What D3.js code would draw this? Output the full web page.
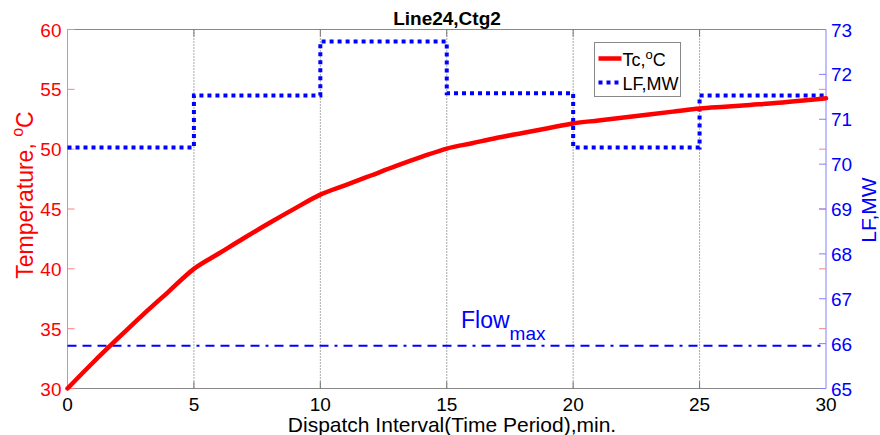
<!DOCTYPE html>
<html>
<head>
<meta charset="utf-8">
<script src="https://cdn.jsdelivr.net/npm/d3@7"></script>
<style>
  body { margin: 0; background: #fff; }
  svg { font-family: "Liberation Sans", Arial, sans-serif; }
</style>
</head>
<body>
<svg id="chart" width="880" height="435"></svg>
<script>
// minutes
const minutes = d3.range(0, 31);
// conductor temperature Tc, degC, read per minute
const tempValues = [30.0, 32.15, 34.2, 36.2, 38.1, 40.0, 41.3, 42.6, 43.85, 45.05, 46.2,
  47.0, 47.8, 48.6, 49.35, 50.05, 50.5, 50.95, 51.35, 51.75, 52.15,
  52.4, 52.65, 52.9, 53.15, 53.4, 53.55, 53.7, 53.85, 54.05, 54.25];
// line flow per dispatch interval, MW
const intervalStarts = [0, 5, 10, 15, 20, 25];
const flowValues = [70.37, 71.53, 72.73, 71.58, 70.37, 71.53];
const flowMax = 65.95;
const xTicks = [0, 5, 10, 15, 20, 25, 30];
const tempTicks = [30, 35, 40, 45, 50, 55, 60];
const flowTicks = [65, 66, 67, 68, 69, 70, 71, 72, 73];

const svg = d3.select("#chart");
const mLeft = 67.5, mRight = 826, mTop = 29.5, mBottom = 388.5;

const x = d3.scaleLinear().domain([0, 30]).range([mLeft, mRight]);
const yT = d3.scaleLinear().domain([30, 60]).range([mBottom, mTop]);
const yF = d3.scaleLinear().domain([65, 73]).range([mBottom, mTop]);

// vertical dotted grid
svg.append("g").selectAll("line")
  .data(xTicks.slice(1, -1))
  .join("line")
  .attr("x1", d => x(d)).attr("x2", d => x(d))
  .attr("y1", mTop).attr("y2", mBottom)
  .attr("stroke", "#555").attr("stroke-width", 1)
  .attr("stroke-dasharray", "1,2");

// top / bottom frame with inward ticks
[mTop, mBottom].forEach((yy, i) => {
  svg.append("line")
    .attr("x1", mLeft).attr("x2", mRight).attr("y1", yy).attr("y2", yy)
    .attr("stroke", "#888").attr("stroke-width", 1);
  svg.append("g").selectAll("line")
    .data(xTicks.slice(1, -1))
    .join("line")
    .attr("x1", d => x(d)).attr("x2", d => x(d))
    .attr("y1", yy).attr("y2", i === 0 ? yy + 7 : yy - 7)
    .attr("stroke", "#777").attr("stroke-width", 1);
});

// left axis (temperature)
svg.append("line")
  .attr("x1", mLeft).attr("x2", mLeft).attr("y1", mTop).attr("y2", mBottom)
  .attr("stroke", "#ff8080").attr("stroke-width", 1);
svg.append("g").selectAll("line")
  .data(tempTicks)
  .join("line")
  .attr("x1", mLeft).attr("x2", mLeft + 7)
  .attr("y1", d => yT(d)).attr("y2", d => yT(d))
  .attr("stroke", "#ff8080");
svg.append("g").selectAll("text")
  .data(tempTicks)
  .join("text")
  .attr("x", mLeft - 6).attr("y", d => yT(d) + 7)
  .attr("text-anchor", "end")
  .attr("font-size", 19).attr("fill", "#ff0000")
  .text(d => d);

// right axis (flow)
svg.append("line")
  .attr("x1", mRight).attr("x2", mRight).attr("y1", mTop).attr("y2", mBottom)
  .attr("stroke", "#8080ff").attr("stroke-width", 1);
svg.append("g").selectAll("line")
  .data(tempTicks)
  .join("line")
  .attr("x1", mRight).attr("x2", mRight - 7)
  .attr("y1", d => yT(d)).attr("y2", d => yT(d))
  .attr("stroke", "#ff8080");
svg.append("g").selectAll("line")
  .data(flowTicks)
  .join("line")
  .attr("x1", mRight).attr("x2", mRight - 7)
  .attr("y1", d => yF(d)).attr("y2", d => yF(d))
  .attr("stroke", "#8080ff");
svg.append("g").selectAll("text")
  .data(flowTicks)
  .join("text")
  .attr("x", mRight + 5).attr("y", d => yF(d) + 7)
  .attr("font-size", 19).attr("fill", "#0000ff")
  .text(d => d);

// x tick labels
svg.append("g").selectAll("text")
  .data(xTicks)
  .join("text")
  .attr("x", d => x(d)).attr("y", mBottom + 22)
  .attr("text-anchor", "middle")
  .attr("font-size", 19).attr("fill", "#000")
  .text(d => d);

// Flowmax line
svg.append("line")
  .attr("x1", mLeft).attr("x2", mRight)
  .attr("y1", yF(flowMax)).attr("y2", yF(flowMax))
  .attr("stroke", "#0000ff").attr("stroke-width", 2)
  .attr("stroke-dasharray", "9,6,9,6,9,6,9,6,3,6");

const fl = svg.append("text")
  .attr("x", 461).attr("y", yF(flowMax) - 18)
  .attr("fill", "#0000ff").attr("font-size", 23);
fl.append("tspan").text("Flow");
fl.append("tspan").attr("dy", 12).attr("font-size", 19).text("max");

// LF step line
const flowSteps = intervalStarts.map((s, i) => [s, flowValues[i]]);
flowSteps.push([30, flowValues[flowValues.length - 1]]);
svg.append("path")
  .datum(flowSteps)
  .attr("d", d3.line().x(d => x(d[0])).y(d => yF(d[1])).curve(d3.curveStepAfter))
  .attr("fill", "none").attr("stroke", "#0000ff")
  .attr("stroke-width", 4).attr("stroke-dasharray", "4,4");

// temperature curve
svg.append("path")
  .datum(minutes.map((m, i) => [m, tempValues[i]]))
  .attr("d", d3.line().x(d => x(d[0])).y(d => yT(d[1])).curve(d3.curveMonotoneX))
  .attr("fill", "none").attr("stroke", "#ff0000")
  .attr("stroke-width", 4.5).attr("stroke-linejoin", "round").attr("stroke-linecap", "round");

// title
svg.append("text")
  .attr("x", 447).attr("y", 25)
  .attr("text-anchor", "middle")
  .attr("font-size", 19).attr("font-weight", "bold")
  .text("Line24,Ctg2");

// x axis label
svg.append("text")
  .attr("x", 452).attr("y", 432)
  .attr("text-anchor", "middle")
  .attr("font-size", 21)
  .text("Dispatch Interval(Time Period),min.");

// left axis label
const ll = svg.append("text")
  .attr("transform", "translate(33,195) rotate(-90)")
  .attr("text-anchor", "middle")
  .attr("font-size", 23).attr("fill", "#ff0000");
ll.append("tspan").text("Temperature, ");
ll.append("tspan").attr("dy", -10).attr("font-size", 16).text("o");
ll.append("tspan").attr("dy", 10).text("C");

// right axis label
svg.append("text")
  .attr("transform", "translate(876,210) rotate(-90)")
  .attr("text-anchor", "middle")
  .attr("font-size", 21).attr("fill", "#0000ff")
  .text("LF,MW");

// legend
const lg = svg.append("g").attr("transform", "translate(594.5,42.5)");
lg.append("rect")
  .attr("width", 86).attr("height", 54)
  .attr("fill", "#fff").attr("stroke", "#888").attr("stroke-width", 1);
lg.append("line")
  .attr("x1", 4).attr("x2", 27).attr("y1", 16).attr("y2", 16)
  .attr("stroke", "#ff0000").attr("stroke-width", 4.5);
const t1 = lg.append("text").attr("x", 28).attr("y", 23).attr("font-size", 18);
t1.append("tspan").text("Tc,");
t1.append("tspan").attr("dy", -7).attr("font-size", 13).text("o");
t1.append("tspan").attr("dy", 7).text("C");
lg.append("line")
  .attr("x1", 4).attr("x2", 27).attr("y1", 40).attr("y2", 40)
  .attr("stroke", "#0000ff").attr("stroke-width", 4).attr("stroke-dasharray", "4,4");
lg.append("text").attr("x", 28).attr("y", 47).attr("font-size", 18).text("LF,MW");
</script>
</body>
</html>
